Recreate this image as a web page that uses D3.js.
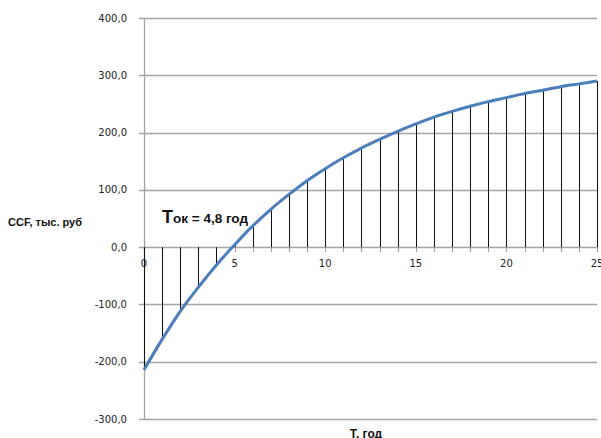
<!DOCTYPE html>
<html><head><meta charset="utf-8">
<script src="https://cdn.jsdelivr.net/npm/d3@7"></script>
<style>body{margin:0;background:#fff}svg{display:block}</style>
</head><body>
<script>
const years = d3.range(0, 26);
const ccf = [-214, -161, -112, -70, -31, 4, 37, 66, 92, 116, 137, 156, 173, 188, 202, 215, 227, 237, 246, 254, 261, 268, 274, 280, 285, 290];
const yTicks = [-300, -200, -100, 0, 100, 200, 300, 400];
const xTicks = [0, 5, 10, 15, 20, 25];
const yTitle = "CCF, тыс. руб";
const xTitle = "Т, год";

const W = 601, H = 438;
const m = {l: 144, r: 4, t: 18, b: 19};
const svg = d3.select("body").append("svg").attr("width", W).attr("height", H);
const x = d3.scaleLinear().domain([0, 25]).range([m.l, W - m.r]);
const y = d3.scaleLinear().domain([-300, 400]).range([H - m.b, m.t]);
const fmt = v => d3.format(".1f")(v).replace(".", ",").replace("−", "-");

svg.append("g").selectAll("line").data(yTicks).join("line")
  .attr("x1", m.l - 5).attr("x2", W - m.r)
  .attr("y1", d => Math.round(y(d)) + 0.5).attr("y2", d => Math.round(y(d)) + 0.5)
  .attr("stroke", "#a3a3a3").attr("stroke-width", 1.3);

svg.append("line").attr("x1", m.l + 0.5).attr("x2", m.l + 0.5)
  .attr("y1", y(400)).attr("y2", y(-300)).attr("stroke", "#a3a3a3").attr("stroke-width", 1.3);

svg.append("g").selectAll("text").data(yTicks).join("text")
  .attr("x", 127).attr("y", d => y(d)).attr("dy", "0.35em")
  .attr("text-anchor", "end").attr("font-family", "DejaVu Sans").attr("font-size", 10)
  .attr("fill", "#222").text(d => fmt(d));

svg.append("g").selectAll("line").data(years).join("line")
  .attr("x1", d => Math.round(x(d)) + 0.5).attr("x2", d => Math.round(x(d)) + 0.5)
  .attr("y1", y(0)).attr("y2", y(0) + 5)
  .attr("stroke", "#a3a3a3").attr("stroke-width", 1.2);

svg.append("g").selectAll("line").data(years).join("line")
  .attr("x1", d => Math.round(x(d)) + 0.5).attr("x2", d => Math.round(x(d)) + 0.5)
  .attr("y1", y(0)).attr("y2", (d, i) => y(ccf[i]))
  .attr("stroke", "#111").attr("stroke-width", 1);

svg.append("g").selectAll("text").data(xTicks).join("text")
  .attr("x", d => x(d)).attr("y", y(0) + 20)
  .attr("text-anchor", "middle").attr("font-family", "DejaVu Sans").attr("font-size", 10)
  .attr("fill", "#222").text(d => d);

const line = d3.line().x(d => x(d)).y((d, i) => y(ccf[i])).curve(d3.curveCatmullRom.alpha(0.5));
svg.append("path").datum(years).attr("d", line)
  .attr("fill", "none").attr("stroke", "#4a7ebb").attr("stroke-width", 3);

const ann = svg.append("text").attr("x", 162).attr("y", 223)
  .attr("font-family", "Liberation Sans").attr("font-weight", "bold").attr("fill", "#111");
ann.append("tspan").attr("font-size", 18).text("Т");
ann.append("tspan").attr("font-size", 13.5).text("ок = 4,8 год");

svg.append("text").attr("x", 8).attr("y", 226)
  .attr("font-family", "Liberation Sans").attr("font-weight", "bold").attr("font-size", 11)
  .attr("fill", "#111").text(yTitle);
svg.append("text").attr("x", 366).attr("y", 438).attr("text-anchor", "middle")
  .attr("font-family", "Liberation Sans").attr("font-weight", "bold").attr("font-size", 12)
  .attr("fill", "#111").text(xTitle);
</script>
</body></html>
